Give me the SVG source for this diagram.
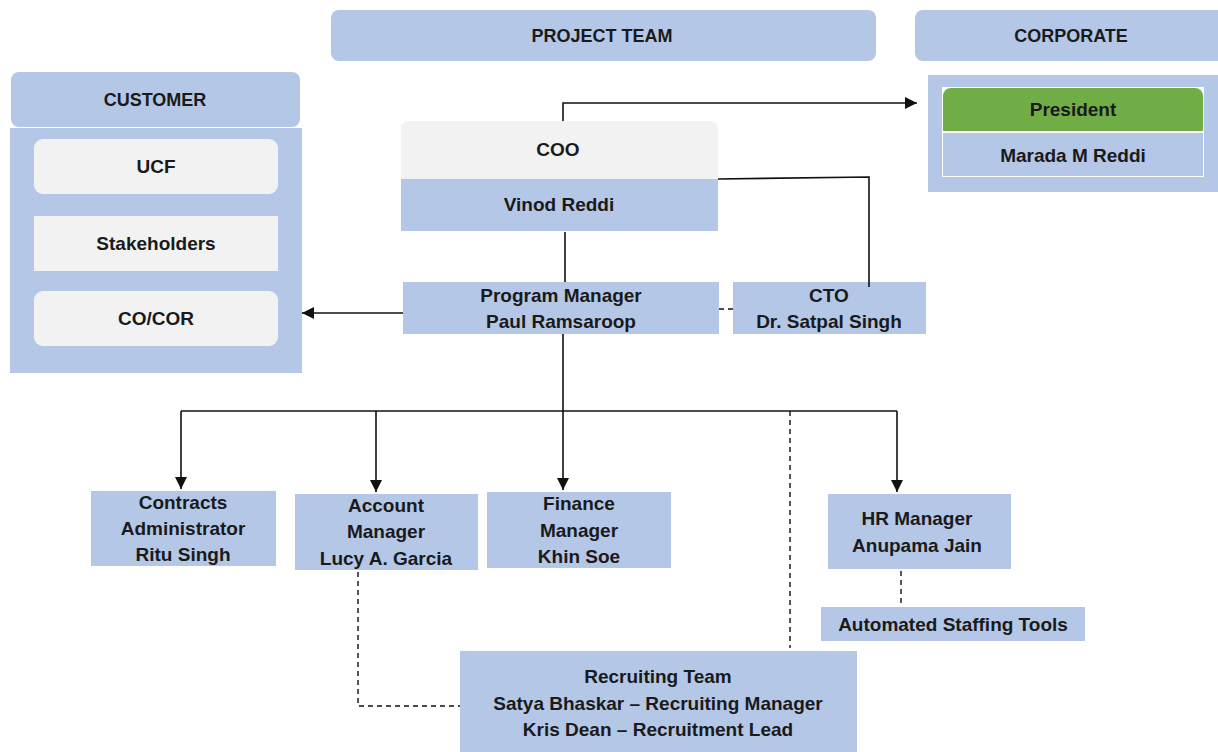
<svg xmlns="http://www.w3.org/2000/svg" width="1218" height="752" viewBox="0 0 1218 752">
<defs>
<style>
.b{fill:#B4C7E7}
.g{fill:#F2F2F2}
.t{font-family:"Liberation Sans",Arial,sans-serif;font-weight:bold;font-size:19px;fill:#1a1a1a;text-anchor:middle}
.h{font-size:18px}
.ln{stroke:#111;stroke-width:1.6;fill:none}
.ds{stroke:#111;stroke-width:1.4;fill:none;stroke-dasharray:5,4}
</style>
<marker id="ah2" viewBox="0 0 10 10" refX="10" refY="5" markerWidth="12" markerHeight="12" markerUnits="userSpaceOnUse" orient="auto"><path d="M0,0 L10,5 L0,10 z" fill="#111"/></marker>
</defs>
<rect width="1218" height="752" fill="#fff"/>

<g id="project-team"><rect class="b" x="331" y="10" width="545" height="51" rx="8"/><text class="t h" x="602" y="42">PROJECT TEAM</text></g>
<g id="corporate-header"><rect class="b" x="915" y="10" width="310" height="51" rx="8"/><text class="t h" x="1071" y="42">CORPORATE</text></g>

<g id="customer">
<rect class="b" x="11" y="72" width="289" height="55" rx="8"/><text class="t h" x="155" y="106">CUSTOMER</text>
<rect class="b" x="10" y="128" width="292" height="245"/>
</g>
<g id="ucf"><rect class="g" x="34" y="139" width="244" height="55" rx="9"/><text class="t" x="156" y="173">UCF</text></g>
<g id="stakeholders"><rect class="g" x="34" y="216" width="244" height="55"/><text class="t" x="156" y="250">Stakeholders</text></g>
<g id="cocor"><rect class="g" x="34" y="291" width="244" height="55" rx="9"/><text class="t" x="156" y="325">CO/COR</text></g>

<g id="corporate">
<rect class="b" x="928" y="75" width="290" height="117"/>
<rect x="942" y="87" width="262" height="90" fill="#fff"/>
<path d="M943,131 V96 a8,8 0 0 1 8,-8 H1195 a8,8 0 0 1 8,8 V131 z" fill="#70AD47"/>
<text class="t" x="1073" y="116">President</text>
<rect class="b" x="943" y="133" width="260" height="43"/>
<text class="t" x="1073" y="162">Marada M Reddi</text>
</g>

<g id="coo">
<path d="M401,179 V129 a8,8 0 0 1 8,-8 H710 a8,8 0 0 1 8,8 V179 z" class="g"/>
<text class="t" x="558" y="156">COO</text>
<rect class="b" x="401" y="179" width="317" height="52"/>
<text class="t" x="559" y="211">Vinod Reddi</text>
</g>

<g id="program-manager"><rect class="b" x="403" y="282" width="316" height="52"/><text class="t" x="561" y="302">Program Manager</text><text class="t" x="561" y="328">Paul Ramsaroop</text></g>
<g id="cto"><rect class="b" x="733" y="282" width="193" height="52"/><text class="t" x="829" y="302">CTO</text><text class="t" x="829" y="328">Dr. Satpal Singh</text></g>

<g id="contracts"><rect class="b" x="91" y="491" width="185" height="75"/><text class="t" x="183" y="509">Contracts</text><text class="t" x="183" y="535">Administrator</text><text class="t" x="183" y="561">Ritu Singh</text></g>
<g id="account"><rect class="b" x="295" y="494" width="183" height="76"/><text class="t" x="386" y="512">Account</text><text class="t" x="386" y="538">Manager</text><text class="t" x="386" y="565">Lucy A. Garcia</text></g>
<g id="finance"><rect class="b" x="487" y="492" width="184" height="76"/><text class="t" x="579" y="510">Finance</text><text class="t" x="579" y="537">Manager</text><text class="t" x="579" y="563">Khin Soe</text></g>
<g id="hr"><rect class="b" x="828" y="494" width="183" height="75"/><text class="t" x="917" y="525">HR Manager</text><text class="t" x="917" y="552">Anupama Jain</text></g>
<g id="staffing-tools"><rect class="b" x="821" y="607" width="264" height="34"/><text class="t" x="953" y="631">Automated Staffing Tools</text></g>
<g id="recruiting"><rect class="b" x="460" y="651" width="397" height="101"/><text class="t" x="658" y="683">Recruiting Team</text><text class="t" x="658" y="710">Satya Bhaskar – Recruiting Manager</text><text class="t" x="658" y="736">Kris Dean – Recruitment Lead</text></g>

<g id="connectors">
<path class="ln" d="M563,121 V103 H917" marker-end="url(#ah2)"/>
<path class="ln" d="M718,179 L869,177 V287"/>
<path class="ln" d="M565,232 V282"/>
<path class="ln" d="M403,313 H302" marker-end="url(#ah2)"/>
<path class="ds" d="M719,309 H733"/>
<path class="ln" d="M563,334 V411"/>
<path class="ln" d="M181,411 H897"/>
<path class="ln" d="M181,411 V489" marker-end="url(#ah2)"/>
<path class="ln" d="M376,411 V492" marker-end="url(#ah2)"/>
<path class="ln" d="M563,411 V490" marker-end="url(#ah2)"/>
<path class="ln" d="M897,411 V492" marker-end="url(#ah2)"/>
<path class="ds" d="M790,411 V648"/>
<path class="ds" d="M901,571 V607"/>
<path class="ds" d="M358,572 V706 H460"/>
</g>
</svg>
